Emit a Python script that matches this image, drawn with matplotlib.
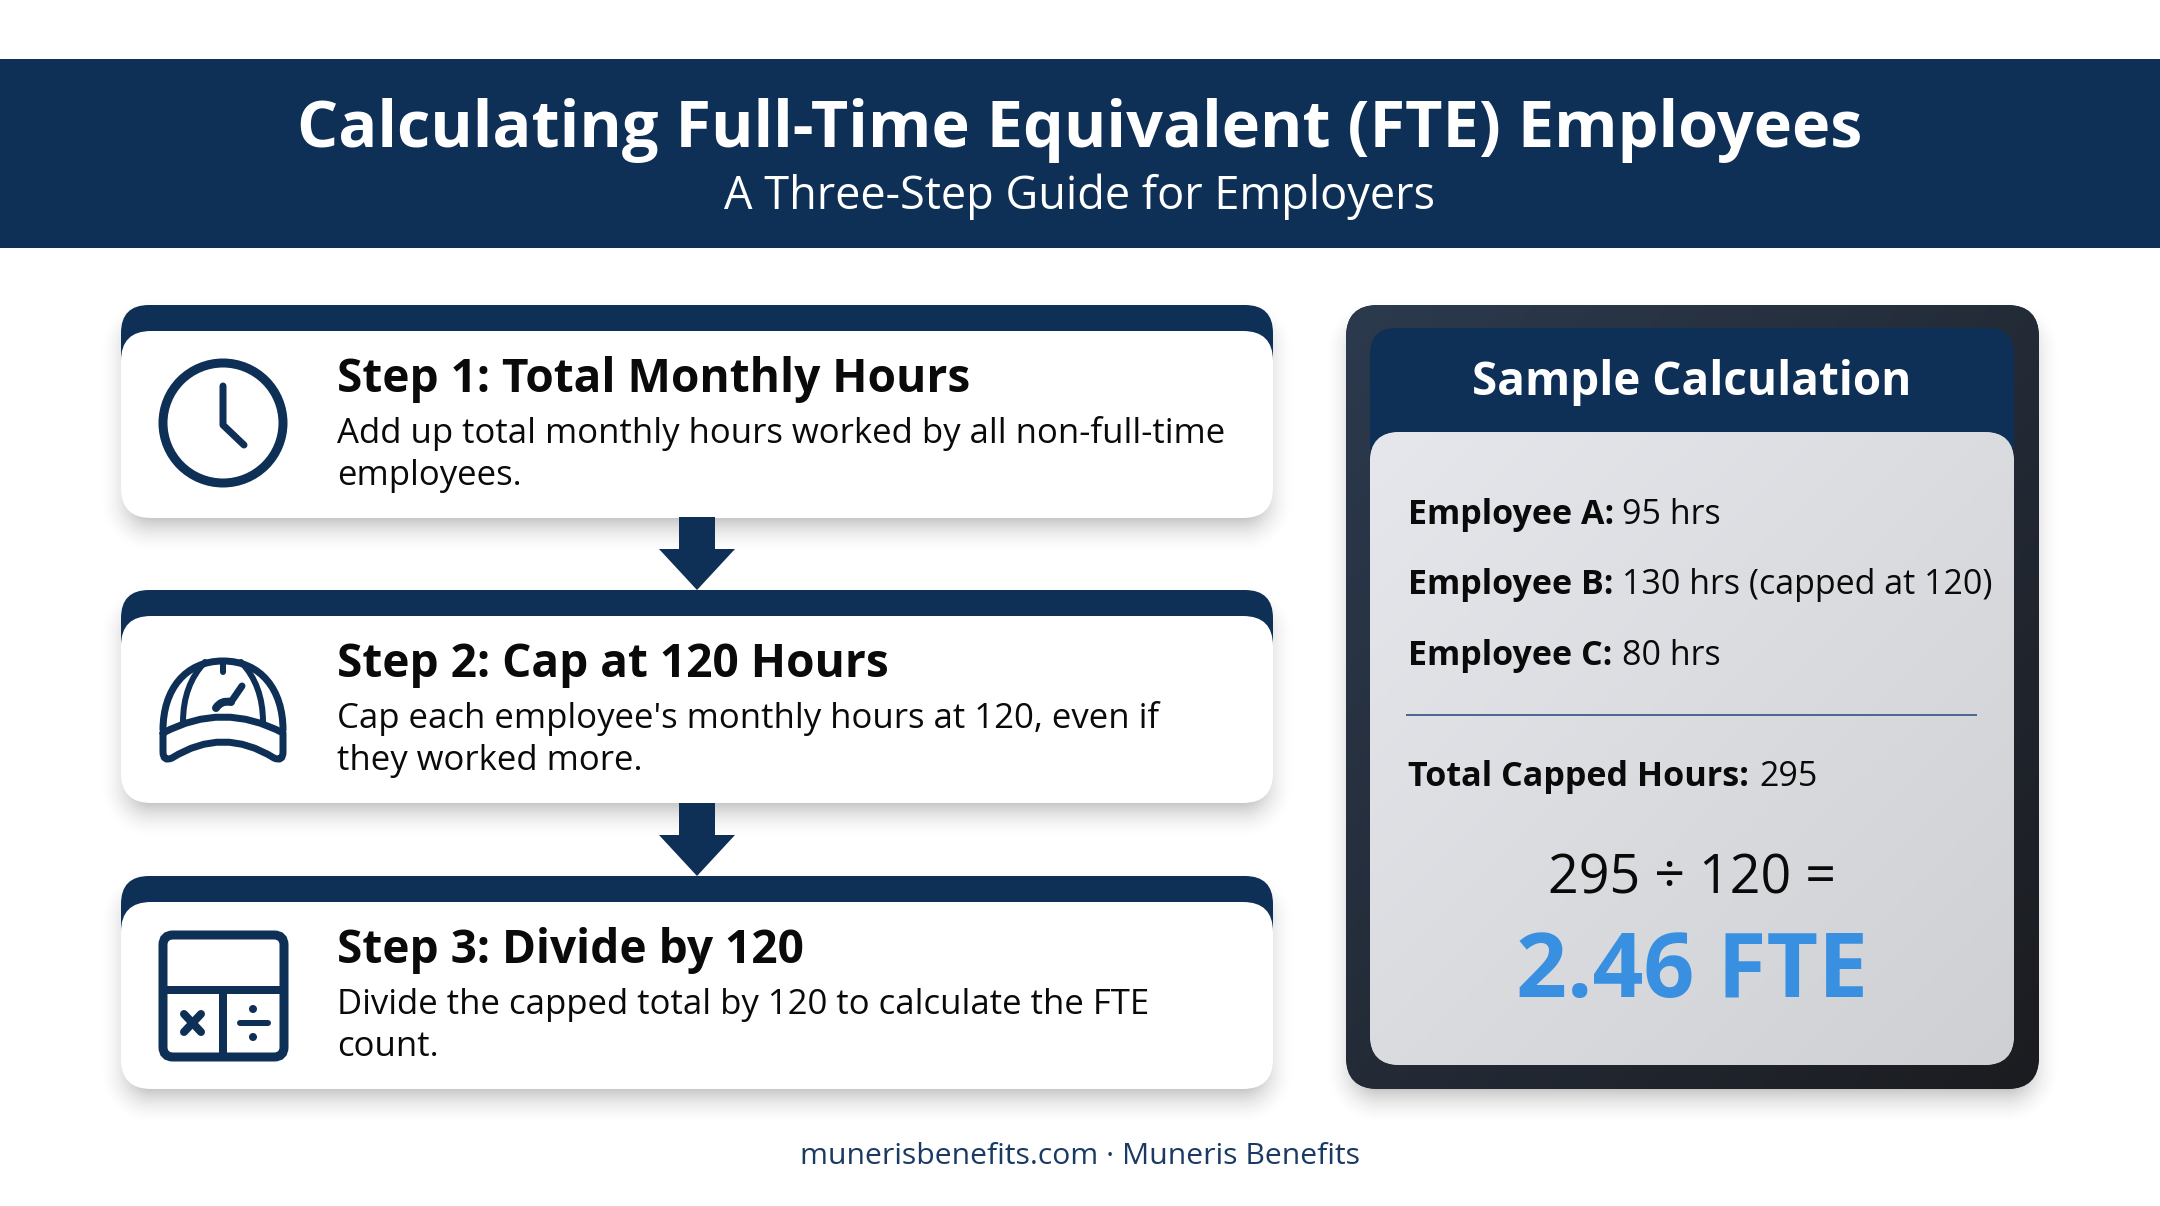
import matplotlib
matplotlib.use("Agg")
import matplotlib.pyplot as plt
import numpy as np
from matplotlib.patches import Circle, FancyBboxPatch, PathPatch, Polygon, Rectangle
from matplotlib.path import Path

# Noto Sans only ships as a variable font here (no bold), Open Sans is the close match
plt.rcParams["font.family"] = ["Open Sans", "DejaVu Sans"]

title = "Calculating Full-Time Equivalent (FTE) Employees"
subtitle = "A Three-Step Guide for Employers"
footer = "munerisbenefits.com · Muneris Benefits"

step_titles = ["Step 1: Total Monthly Hours", "Step 2: Cap at 120 Hours", "Step 3: Divide by 120"]
step_lines = [
    ["Add up total monthly hours worked by all non-full-time", "employees."],
    ["Cap each employee's monthly hours at 120, even if", "they worked more."],
    ["Divide the capped total by 120 to calculate the FTE", "count."],
]

panel_title = "Sample Calculation"
employee_labels = ["Employee A:", "Employee B:", "Employee C:"]
employee_hours = ["95 hrs", "130 hrs (capped at 120)", "80 hrs"]
total_label = "Total Capped Hours:"
total_value = "295"
equation = "295 ÷ 120 ="
result = "2.46 FTE"

NAVY = "#0f3056"
INK = "#0a0a0a"
BLUE = "#3a90e0"

W, H = 2160, 1206
fig = plt.figure(figsize=(W / 100, H / 100), dpi=100, facecolor="white")
ax = fig.add_axes([0, 0, 1, 1])
px = 0.72  # pixels to points at dpi 100


def rbox(x0, y0, x1, y1, r, color, z=2):
    patch = FancyBboxPatch(
        (x0, y0), x1 - x0, y1 - y0,
        boxstyle=f"round,pad=0,rounding_size={r}",
        fc=color, ec="none", zorder=z,
    )
    ax.add_patch(patch)
    return patch


def shadow(x0, y0, x1, y1, r, spread=24, strength=0.40, dy=14):
    # soft shadow from a rounded box distance field
    pad = spread * 2 + dy
    xs = np.arange(x0 - pad, x1 + pad)
    ys = np.arange(y0 - pad, y1 + pad)
    gx, gy = np.meshgrid(xs, ys)
    qx = np.abs(gx - (x0 + x1) / 2) - (x1 - x0) / 2 + r
    qy = np.abs(gy - (y0 + y1) / 2 - dy) - (y1 - y0) / 2 + r
    d = np.hypot(np.maximum(qx, 0), np.maximum(qy, 0)) + np.minimum(np.maximum(qx, qy), 0) - r
    a = np.clip(0.5 - d / (2 * spread), 0, 1) ** 2 * strength
    img = np.zeros(a.shape + (4,))
    img[..., :3] = 0.1
    img[..., 3] = a
    ax.imshow(img, extent=(xs[0], xs[-1], ys[-1], ys[0]), zorder=1, aspect="auto")


def gradient_box(patch, x0, y0, x1, y1, c_tl, c_br, z):
    # diagonal gradient clipped to a rounded box
    u, v = np.meshgrid(np.linspace(0, 1, 200), np.linspace(0, 1, 200))
    t = ((u + v) / 2)[..., None]
    img = (1 - t) * np.array(matplotlib.colors.to_rgb(c_tl)) + t * np.array(matplotlib.colors.to_rgb(c_br))
    im = ax.imshow(img, extent=(x0, x1, y1, y0), zorder=z, aspect="auto")
    im.set_clip_path(patch)


def stroke(verts, codes=None, lw=6, z=5):
    if codes is None:
        codes = [Path.MOVETO] + [Path.LINETO] * (len(verts) - 1)
    ax.add_patch(PathPatch(
        Path(verts, codes), fc="none", ec=NAVY, lw=lw * px, zorder=z,
        capstyle="round", joinstyle="round",
    ))


def clock_icon():
    ax.add_patch(Circle((223, 423), 60, fc="none", ec=NAVY, lw=9 * px, zorder=5))
    stroke([(223, 386), (223, 425), (244, 445)], lw=7)


def hat_icon():
    C3, C4, M, L = Path.CURVE3, Path.CURVE4, Path.MOVETO, Path.LINETO
    stroke([(163, 730), (163, 690), (185, 661), (223, 661), (261, 661), (283, 690), (283, 730)],
           [M, C4, C4, C4, C4, C4, C4], lw=7)
    stroke([(163, 733), (223, 701), (283, 733), (283, 752), (283, 762), (274, 758), (223, 726), (172, 758),
            (163, 762), (163, 752), (163, 733)],
           [M, C3, C3, L, C3, C3, C3, C3, C3, C3, L], lw=7)
    stroke([(183, 722), (183, 685), (205, 662)], [M, C3, C3], lw=6)
    stroke([(263, 722), (263, 685), (241, 662)], [M, C3, C3], lw=6)
    stroke([(223, 662), (223, 672)], lw=6)
    stroke([(242, 686), (231, 702)], lw=7)
    stroke([(231, 702), (221, 700), (216, 708)], [M, C3, C3], lw=8)


def calc_icon():
    ax.add_patch(FancyBboxPatch(
        (163, 935), 121, 122, boxstyle="round,pad=0,rounding_size=10",
        fc="none", ec=NAVY, lw=9 * px, zorder=5,
    ))
    stroke([(163, 990), (284, 990)], lw=8)
    stroke([(223, 990), (223, 1057)], lw=8)
    stroke([(184, 1014), (201, 1032)], lw=8)
    stroke([(201, 1014), (184, 1032)], lw=8)
    stroke([(240, 1023), (268, 1023)], lw=6)
    ax.add_patch(Circle((253, 1009), 4, fc=NAVY, ec="none", zorder=5))
    ax.add_patch(Circle((253, 1037), 4, fc=NAVY, ec="none", zorder=5))


# header band
ax.add_patch(Rectangle((0, 59), W, 189, fc=NAVY, ec="none", zorder=2))
ax.text(W / 2, 147, title, color="white", fontsize=46.6, fontweight="bold", ha="center", va="baseline", zorder=6)
ax.text(W / 2, 209, subtitle, color="white", fontsize=32.5, ha="center", va="baseline", zorder=6)

# step cards
card_tops = [305, 590, 876]
icons = [clock_icon, hat_icon, calc_icon]
for i, top in enumerate(card_tops):
    bottom = top + 213
    shadow(121, top, 1273, bottom, 30)
    rbox(121, top, 1273, top + 90, 28, NAVY, z=2)
    rbox(121, top + 26, 1273, bottom, 30, "white", z=3)
    icons[i]()
    ax.text(337, top + 87, step_titles[i], color=INK, fontsize=33.1, fontweight="bold", ha="left", va="baseline", zorder=6)
    ax.text(337, top + 138, step_lines[i][0], color=INK, fontsize=25.05, ha="left", va="baseline", zorder=6)
    ax.text(337, top + 180, step_lines[i][1], color=INK, fontsize=25.05, ha="left", va="baseline", zorder=6)

# arrows between the cards
for top in card_tops[1:]:
    ax.add_patch(Polygon(
        [(679, top - 73), (715, top - 73), (715, top - 41), (735, top - 41), (697, top), (659, top - 41), (679, top - 41)],
        fc=NAVY, ec="none", zorder=4,
    ))

# sample calculation panel
shadow(1346, 305, 2039, 1089, 32)
outer = rbox(1346, 305, 2039, 1089, 32, "#232c3a", z=2)
gradient_box(outer, 1346, 305, 2039, 1089, "#2c3a4e", "#1b1c20", 2.1)
rbox(1370, 328, 2014, 470, 26, NAVY, z=3)
inner = rbox(1370, 432, 2014, 1065, 30, "#dcdde1", z=3.5)
gradient_box(inner, 1370, 432, 2014, 1065, "#e6e7ec", "#cfd0d3", 3.6)
ax.text(1692, 395, panel_title, color="white", fontsize=33.0, fontweight="bold", ha="center", va="baseline", zorder=6)

employee_y = [524, 594, 665]
for label, hours, y in zip(employee_labels, employee_hours, employee_y):
    ax.text(1408, y, label, color=INK, fontsize=24.5, fontweight="bold", ha="left", va="baseline", zorder=6)
    ax.text(1622, y, hours, color=INK, fontsize=24.45, ha="left", va="baseline", zorder=6)

ax.plot([1407, 1976], [715, 715], color="#4d6892", lw=2 * px, zorder=6)
ax.text(1408, 786, total_label, color=INK, fontsize=24.6, fontweight="bold", ha="left", va="baseline", zorder=6)
ax.text(1759, 786, total_value, color=INK, fontsize=24.5, ha="left", va="baseline", zorder=6)

ax.text(1692, 894, equation, color=INK, fontsize=38.7, ha="center", va="baseline", zorder=6)
ax.text(1692, 997, result, color=BLUE, fontsize=64.3, fontweight="bold", ha="center", va="baseline", zorder=6)

ax.text(W / 2, 1164, footer, color="#1a3a63", fontsize=21.7, ha="center", va="baseline", zorder=6)

ax.set_xlim(0, W)
ax.set_ylim(H, 0)
ax.axis("off")
fig.savefig("out.png", dpi=100)
